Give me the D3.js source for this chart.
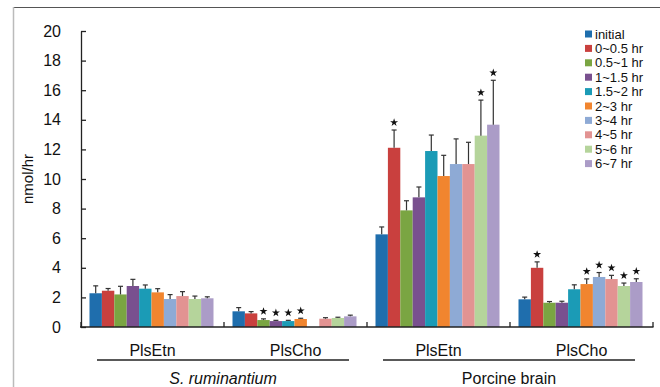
<!DOCTYPE html>
<html>
<head>
<meta charset="utf-8">
<script src="https://cdn.jsdelivr.net/npm/d3@7"></script>
<style>
  body { margin: 0; background: #fff; }
  svg { display: block; font-family: "Liberation Sans", Arial, sans-serif; }
</style>
</head>
<body>
<div id="chart"></div>
<script>
// categories along the x axis (source / substrate)
const groups = ['SR-PlsEtn', 'SR-PlsCho', 'PB-PlsEtn', 'PB-PlsCho'];
const groupLabels = ['PlsEtn', 'PlsCho', 'PlsEtn', 'PlsCho'];
const series = ['initial', '0~0.5 hr', '0.5~1 hr', '1~1.5 hr', '1.5~2 hr',
    '2~3 hr', '3~4 hr', '4~5 hr', '5~6 hr', '6~7 hr'];
const colors = ['#1f6ead', '#c9403e', '#7aa542', '#79508f', '#1b9bb6',
    '#f1852f', '#8eaad5', '#e29392', '#b5d49b', '#ab9cc7'];

// one row per group, one value per series (null = not measured)
const values = [
    [2.28, 2.45, 2.2, 2.77, 2.59, 2.34, 1.89, 2.09, 1.89, 1.94],
    [1.06, 0.92, 0.47, 0.4, 0.4, 0.54, null, 0.56, 0.61, 0.72],
    [6.26, 12.11, 7.88, 8.76, 11.89, 10.2, 11.01, 11.01, 12.93, 13.67],
    [1.87, 4.0, 1.64, 1.64, 2.55, 2.9, 3.38, 3.24, 2.77, 3.04]
];
const errors = [
    [0.5, 0.15, 0.55, 0.45, 0.25, 0.25, 0.3, 0.3, 0.2, 0.1],
    [0.25, 0.12, 0.08, 0.05, 0.05, 0.05, null, 0.07, 0.05, 0.08],
    [0.5, 1.2, 0.65, 0.7, 1.08, 1.4, 1.7, 1.47, 2.4, 3.0],
    [0.15, 0.4, 0.08, 0.1, 0.3, 0.35, 0.3, 0.25, 0.2, 0.22]
];
// significance marks
const stars = [
    [0, 0, 0, 0, 0, 0, 0, 0, 0, 0],
    [0, 0, 1, 1, 1, 1, 0, 0, 0, 0],
    [0, 1, 0, 0, 0, 0, 0, 0, 1, 1],
    [0, 1, 0, 0, 0, 1, 1, 1, 1, 1]
];
const yTicks = d3.range(0, 21, 2);
const sources = [
    { name: 'S. ruminantium', italic: true, from: 0, to: 1 },
    { name: 'Porcine brain', italic: false, from: 2, to: 3 }
];

const width = 660, height = 387;
const svg = d3.select('#chart').append('svg')
    .attr('width', width)
    .attr('height', height);

// figure frame
svg.append('line')
    .attr('x1', 13).attr('x2', width).attr('y1', 7.5).attr('y2', 7.5)
    .attr('stroke', '#555').attr('stroke-width', 1.2);
svg.append('line')
    .attr('x1', 13.5).attr('x2', 13.5).attr('y1', 7).attr('y2', height)
    .attr('stroke', '#bbb').attr('stroke-width', 1.5);

const x0 = d3.scaleBand().domain(groups).range([81, 653]);
const x1 = d3.scaleBand().domain(series).range([8.5, 132.5]);
const y = d3.scaleLinear().domain([0, 20]).range([327, 31]);

// y axis, ticks pointing inward
const yAxis = svg.append('g')
    .attr('transform', 'translate(81,0)')
    .call(d3.axisRight(y).tickValues(yTicks).tickSize(5).tickSizeOuter(0));
yAxis.select('.domain').attr('stroke', '#222').attr('stroke-width', 1.3);
yAxis.selectAll('.tick line').attr('stroke', '#222').attr('stroke-width', 1.3);
yAxis.selectAll('.tick text')
    .attr('x', -20)
    .attr('text-anchor', 'end')
    .attr('font-size', 16)
    .attr('fill', '#111');

svg.append('text')
    .attr('transform', `translate(33,${y(10)}) rotate(-90)`)
    .attr('text-anchor', 'middle')
    .attr('font-size', 15)
    .attr('fill', '#111')
    .text('nmol/hr');

// bars
const rows = svg.append('g').selectAll('g')
    .data(groups)
    .join('g')
    .attr('transform', d => `translate(${x0(d)},0)`);

rows.each(function(g, gi) {
    const sel = d3.select(this);
    const data = series.map((s, si) => ({
        s, si, v: values[gi][si], e: errors[gi][si], star: stars[gi][si]
    })).filter(d => d.v != null);

    sel.selectAll('rect')
        .data(data)
        .join('rect')
        .attr('x', d => x1(d.s))
        .attr('width', x1.bandwidth())
        .attr('y', d => y(d.v))
        .attr('height', d => y(0) - y(d.v))
        .attr('fill', d => colors[d.si]);

    const eb = sel.selectAll('g.err')
        .data(data)
        .join('g')
        .attr('class', 'err')
        .attr('stroke', '#333')
        .attr('stroke-width', 1.2);
    eb.append('line')
        .attr('x1', d => x1(d.s) + x1.bandwidth() / 2)
        .attr('x2', d => x1(d.s) + x1.bandwidth() / 2)
        .attr('y1', d => y(d.v))
        .attr('y2', d => y(d.v + d.e));
    eb.append('line')
        .attr('x1', d => x1(d.s) + x1.bandwidth() / 2 - 2.5)
        .attr('x2', d => x1(d.s) + x1.bandwidth() / 2 + 2.5)
        .attr('y1', d => y(d.v + d.e))
        .attr('y2', d => y(d.v + d.e));

    sel.selectAll('path.star')
        .data(data.filter(d => d.star))
        .join('path')
        .attr('class', 'star')
        .attr('d', d3.symbol(d3.symbolStar, 20))
        .attr('fill', '#111')
        .attr('transform', d =>
            `translate(${x1(d.s) + x1.bandwidth() / 2},${y(d.v + d.e) - 7.5})`);
});

// x axis with inward ticks at group boundaries
svg.append('line')
    .attr('x1', 80).attr('x2', 653.5)
    .attr('y1', y(0)).attr('y2', y(0))
    .attr('stroke', '#222').attr('stroke-width', 1.3);
const bounds = groups.map(g => x0(g)).concat([x0.range()[1]]);
svg.selectAll('line.xtick')
    .data(bounds)
    .join('line')
    .attr('class', 'xtick')
    .attr('x1', d => d).attr('x2', d => d)
    .attr('y1', y(0)).attr('y2', y(0) - 5)
    .attr('stroke', '#222').attr('stroke-width', 1.3);

svg.selectAll('text.glabel')
    .data(groups)
    .join('text')
    .attr('class', 'glabel')
    .attr('x', d => x0(d) + x0.bandwidth() / 2)
    .attr('y', 356)
    .attr('text-anchor', 'middle')
    .attr('font-size', 16)
    .attr('fill', '#111')
    .text((d, i) => groupLabels[i]);

// source brackets
sources.forEach(s => {
    const a = x0(groups[s.from]) + 16;
    const b = x0(groups[s.to]) + x0.bandwidth() - 18;
    svg.append('line')
        .attr('x1', a).attr('x2', b)
        .attr('y1', 360).attr('y2', 360)
        .attr('stroke', '#222').attr('stroke-width', 1.5);
    svg.append('text')
        .attr('x', (a + b) / 2)
        .attr('y', 384)
        .attr('text-anchor', 'middle')
        .attr('font-size', 16)
        .attr('font-style', s.italic ? 'italic' : 'normal')
        .attr('fill', '#111')
        .text(s.name);
});

// legend
const legend = svg.append('g')
    .attr('transform', 'translate(585,34)');
const li = legend.selectAll('g')
    .data(series)
    .join('g')
    .attr('transform', (d, i) => `translate(0,${i * 14.4})`);
li.append('rect')
    .attr('x', 0).attr('y', -3.5)
    .attr('width', 7).attr('height', 7)
    .attr('fill', (d, i) => colors[i]);
li.append('text')
    .attr('x', 10)
    .attr('dy', '0.35em')
    .attr('font-size', 13)
    .attr('fill', '#111')
    .text(d => d);
</script>
</body>
</html>
